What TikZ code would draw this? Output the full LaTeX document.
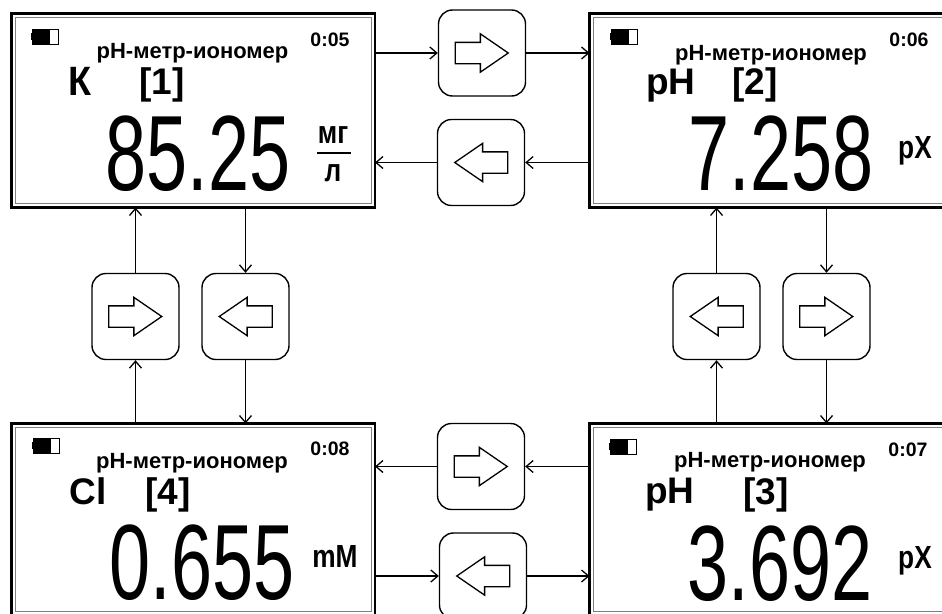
\documentclass[tikz,border=0pt]{standalone}
\usepackage{fontspec}
\setmainfont{Liberation Sans}
\newfontfamily\narrowfont[FakeStretch=0.69]{Liberation Sans}
\newfontfamily\narrowbold[FakeStretch=0.82]{Liberation Sans Bold}
\newfontfamily\tallbold[FakeStretch=0.92]{Liberation Sans Bold}
\usetikzlibrary{arrows.meta,shapes.arrows}
\tikzset{
	screenbox/.style={draw,line width=2.8pt,minimum width=#1,minimum height=194pt,inner sep=0pt,outer sep=0pt,anchor=north west},
	screenbox/.default=363.5pt,
	innerline/.style={draw=black!50,line width=0.9pt},
	keybox/.style={draw,line width=1.4pt,rounded corners=14pt,minimum width=87pt,minimum height=86pt,inner sep=0pt},
	keyarrow/.style={draw,line width=1.3pt,single arrow,minimum height=53pt,inner xsep=0pt,inner ysep=10pt,single arrow head extend=8.5pt,single arrow tip angle=69},
	keyright/.style={keyarrow,xshift=-8pt},
	keyleft/.style={keyarrow,xshift=8pt,shape border rotate=180},
	link/.style={line width=1.3pt,-{Straight Barb[length=7pt,width=12pt]}},
	titletext/.style={anchor=base,inner sep=0pt,font=\bfseries\fontsize{22}{22}\selectfont},
	timetext/.style={anchor=base,inner sep=0pt,font=\bfseries\fontsize{19.5}{19.5}\selectfont},
	nametext/.style={anchor=base,inner sep=0pt,font=\bfseries\fontsize{37}{37}\selectfont},
	tallname/.style={anchor=base,inner sep=0pt,font=\tallbold\fontsize{41}{41}\selectfont},
	valuetext/.style={anchor=base,inner sep=0pt,font=\narrowfont\fontsize{107}{107}\selectfont},
	unittext/.style={anchor=base,inner sep=0pt,font=\narrowbold\fontsize{32}{32}\selectfont},
}
\newcommand{\battery}[2]{
	\draw [line width=1pt] (#1,#2) rectangle +(26,15);
	\fill (#1,#2) rectangle +(18,15);
	\fill (#1-1.5,#2+4) rectangle +(2,7);
}
\begin{document}
\begin{tikzpicture}[x=1pt,y=-1pt]

	\useasboundingbox (0,0) rectangle (942,613);
	\clip (0,0) rectangle (942,613);

	\node [screenbox] (scrK) at (11.5,13.5) {};
	\node [screenbox=380pt] (scrPHa) at (589.5,13.5) {};
	\node [screenbox=380pt] (scrPHb) at (589.5,423.5) {};
	\node [screenbox] (scrCl) at (11.5,423.5) {};

	\draw [innerline] (15.5,17) rectangle (371,203);
	\draw [innerline] (593.5,17) rectangle (960,203);
	\draw [innerline] (593.5,427) rectangle (960,611.5);
	\draw [innerline] (15.5,427) rectangle (371,611.5);

	\node [keybox] (keyA) at (482,53) {};
	\node [keybox] (keyB) at (481,162.5) {};
	\node [keybox] (keyC) at (135.5,316.5) {};
	\node [keybox] (keyD) at (245.5,316.5) {};
	\node [keybox] (keyE) at (716.5,316.5) {};
	\node [keybox] (keyF) at (826.5,316.5) {};
	\node [keybox] (keyG) at (481,466.5) {};
	\node [keybox] (keyH) at (483,576) {};

	\node [keyright] (arrA) at (keyA) {};
	\node [keyleft] (arrB) at (keyB) {};
	\node [keyright] (arrC) at (keyC) {};
	\node [keyleft] (arrD) at (keyD) {};
	\node [keyleft] (arrE) at (keyE) {};
	\node [keyright] (arrF) at (keyF) {};
	\node [keyright] (arrG) at (keyG) {};
	\node [keyleft] (arrH) at (keyH) {};

	\draw [link] (scrK.east |- keyA) -- (keyA);
	\draw [link] (keyA) -- (scrPHa.west |- keyA);
	\draw [link] (scrPHa.west |- keyB) -- (keyB);
	\draw [link] (keyB) -- (scrK.east |- keyB);

	\draw [link] (keyC) -- (keyC |- scrK.south);
	\draw [link] (keyD |- scrK.south) -- (keyD);
	\draw [link] (keyC |- scrCl.north) -- (keyC);
	\draw [link] (keyD) -- (keyD |- scrCl.north);

	\draw [link] (keyE) -- (keyE |- scrPHa.south);
	\draw [link] (keyF |- scrPHa.south) -- (keyF);
	\draw [link] (keyE |- scrPHb.north) -- (keyE);
	\draw [link] (keyF) -- (keyF |- scrPHb.north);

	\draw [link] (scrPHb.west |- keyG) -- (keyG);
	\draw [link] (keyG) -- (scrCl.east |- keyG);
	\draw [link] (scrCl.east |- keyH) -- (keyH);
	\draw [link] (keyH) -- (scrPHb.west |- keyH);

	\battery{32}{29}
	\node [titletext] (titleK) at (192.5,58) {pH-метр-иономер};
	\node [timetext] (timeK) at (330,46) {0:05};
	\node [tallname] (nameK) at (80,95) {К};
	\node [nametext] (numK) at (162,94) {[1]};
	\node [valuetext] (valK) at (198,190) {85.25};
	\node [unittext] (unitKa) at (333,143) {мг};
	\node [unittext] (unitKb) at (333,181) {л};
	\draw [line width=1.2pt] (317,153) -- (351,153);

	\battery{611}{29}
	\node [titletext] (titlePHa) at (771,60) {pH-метр-иономер};
	\node [timetext] (timePHa) at (909,46) {0:06};
	\node [nametext] (namePHa) at (671,94) {pH};
	\node [nametext] (numPHa) at (755,94) {[2]};
	\node [valuetext] (valPHa) at (781,190) {7.258};
	\node [unittext] (unitPHa) at (915,158) {pX};

	\battery{610}{439}
	\node [titletext] (titlePHb) at (770,467) {pH-метр-иономер};
	\node [timetext] (timePHb) at (908,456) {0:07};
	\node [nametext] (namePHb) at (670,503) {pH};
	\node [nametext] (numPHb) at (766,504) {[3]};
	\node [valuetext] (valPHb) at (780,600) {3.692};
	\node [unittext] (unitPHb) at (915,568) {pX};

	\battery{33}{438}
	\node [titletext] (titleCl) at (192,468) {pH-метр-иономер};
	\node [timetext] (timeCl) at (330,455) {0:08};
	\node [nametext] (nameCl) at (88,504) {Cl};
	\node [nametext] (numCl) at (168,504) {[4]};
	\node [valuetext] (valCl) at (202,599) {0.655};
	\node [unittext] (unitCl) at (335,567) {mM};

\end{tikzpicture}
\end{document}
